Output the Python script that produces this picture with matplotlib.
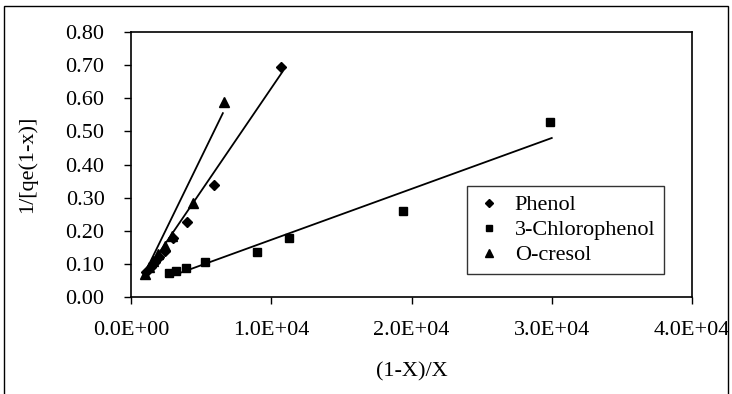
import matplotlib.pyplot as plt
from matplotlib.patches import Rectangle
from matplotlib.ticker import FuncFormatter, MultipleLocator

plt.rcParams['font.family'] = ['Liberation Serif', 'DejaVu Serif']

# data
phenol_x = [1100, 1400, 1700, 2000, 2400, 3000, 4000, 5900, 10700]
phenol_y = [0.075, 0.090, 0.105, 0.120, 0.140, 0.178, 0.227, 0.338, 0.695]
chloro_x = [2700, 3200, 3900, 5300, 9000, 11300, 19400, 29900]
chloro_y = [0.072, 0.077, 0.088, 0.106, 0.136, 0.178, 0.260, 0.527]
cresol_x = [1000, 1300, 1600, 1900, 2400, 2900, 4400, 6600]
cresol_y = [0.070, 0.090, 0.110, 0.130, 0.155, 0.185, 0.285, 0.590]

# trendline end points
phenol_fit_x = [900, 10800]
phenol_fit_y = [0.065, 0.680]
chloro_fit_x = [2800, 30000]
chloro_fit_y = [0.062, 0.480]
cresol_fit_x = [900, 6550]
cresol_fit_y = [0.065, 0.555]

fig = plt.figure(figsize=(7.32, 3.94), dpi=100)
ax = fig.add_axes([131 / 732, 1 - 297 / 394, (692 - 131) / 732, (297 - 32) / 394])

# outer chart frame
fig.patches.append(Rectangle((4 / 732, -0.05), 724 / 732, 1.05 - 6 / 394,
                             transform=fig.transFigure, fill=False,
                             edgecolor='black', linewidth=1.0))

ax.plot(phenol_x, phenol_y, 'D', color='black', markersize=5.5, label='Phenol')
ax.plot(chloro_x, chloro_y, 's', color='black', markersize=6, label='3-Chlorophenol')
ax.plot(cresol_x, cresol_y, '^', color='black', markersize=7, label='O-cresol')

ax.plot(phenol_fit_x, phenol_fit_y, '-', color='black', linewidth=1.3)
ax.plot(chloro_fit_x, chloro_fit_y, '-', color='black', linewidth=1.3)
ax.plot(cresol_fit_x, cresol_fit_y, '-', color='black', linewidth=1.3)

ax.set_xlim(0, 40000)
ax.set_ylim(0, 0.8)
ax.xaxis.set_major_locator(MultipleLocator(10000))
ax.yaxis.set_major_locator(MultipleLocator(0.1))
ax.xaxis.set_major_formatter(FuncFormatter(lambda v, p: f"{v:.1E}"))
ax.yaxis.set_major_formatter(FuncFormatter(lambda v, p: f"{v:.2f}"))
ax.tick_params(axis='both', direction='out', length=5, width=1, labelsize=16)
ax.tick_params(axis='x', pad=12)
ax.tick_params(axis='y', pad=14)
for s in ax.spines.values():
    s.set_linewidth(1.2)

ax.set_xlabel("(1-X)/X", fontsize=16)
ax.set_ylabel("1/[qe(1-x)]", fontsize=16)
ax.xaxis.set_label_coords(0.5, -(372 - 297) / 265, transform=ax.transAxes)
ax.yaxis.set_label_coords(-(131 - 27) / 561, 0.5, transform=ax.transAxes)
ax.xaxis.label.set_va('center')
ax.yaxis.label.set_va('center')

leg = ax.legend(loc='upper left', bbox_to_anchor=((467 - 131) / 561, 1 - (186 - 32) / 265),
                fontsize=16, frameon=True, fancybox=False, edgecolor='black',
                handlelength=1.2, handletextpad=0.55, borderpad=0.4,
                labelspacing=0.2, markerscale=0.8, borderaxespad=0)
leg.get_frame().set_linewidth(1.0)

plt.savefig("out.png", dpi=100)
